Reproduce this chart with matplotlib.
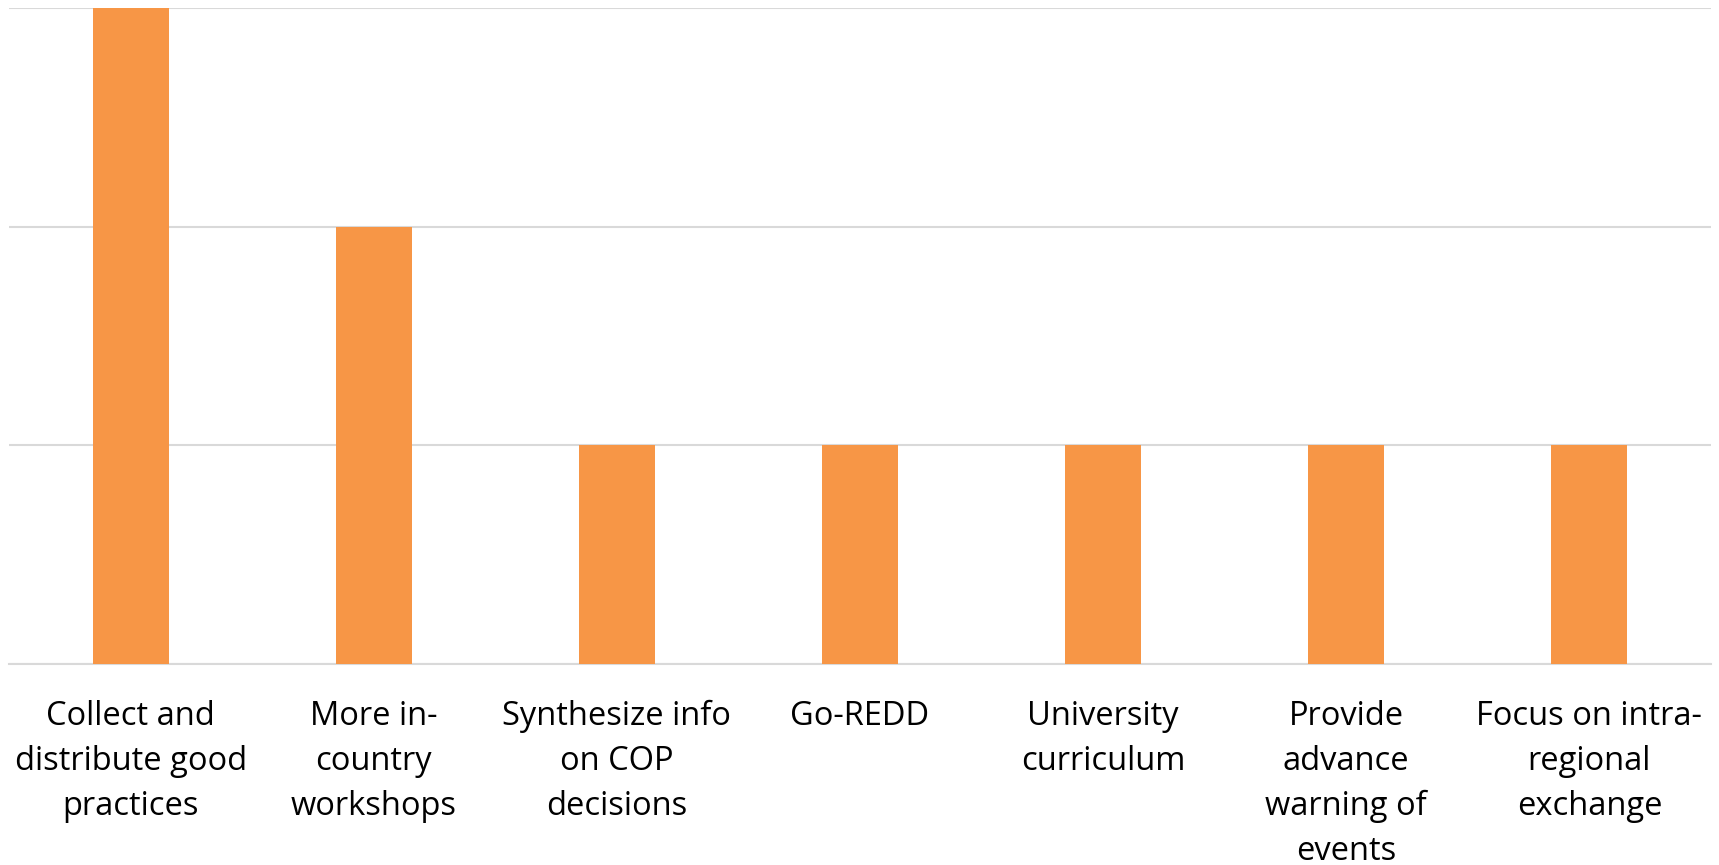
import numpy as np
import matplotlib.pyplot as plt

categories = [
    "Collect and\ndistribute good\npractices",
    "More in-\ncountry\nworkshops",
    "Synthesize info\non COP\ndecisions",
    "Go-REDD",
    "University\ncurriculum",
    "Provide\nadvance\nwarning of\nevents",
    "Focus on intra-\nregional\nexchange",
]
values = [3, 2, 1, 1, 1, 1, 1]

bar_color = "#F79646"
grid_color = "#D9D9D9"

fig = plt.figure(figsize=(17.19, 8.65), dpi=100)
ax = fig.add_axes([9 / 1719, 1 - 664 / 865, 1702 / 1719, 656 / 865])

x = np.arange(len(categories))
ax.bar(x, values, width=0.313, color=bar_color, zorder=3)

ax.set_xlim(-0.5, len(categories) - 0.5)
ax.set_ylim(0, 3)
ax.set_yticks([0, 1, 2, 3])
ax.yaxis.grid(True, color=grid_color, linewidth=1.5, zorder=0)
ax.tick_params(axis="y", left=False, labelleft=False)

ax.set_xticks(x)
ax.set_xticklabels(categories, fontsize=23.5, family="Open Sans",
                   linespacing=1.48, ha="center", va="top")
ax.tick_params(axis="x", length=0, pad=26)

for side in ["top", "left", "right"]:
    ax.spines[side].set_visible(False)
ax.spines["bottom"].set_color(grid_color)
ax.spines["bottom"].set_linewidth(1.5)

fig.savefig("out.png", dpi=100)
